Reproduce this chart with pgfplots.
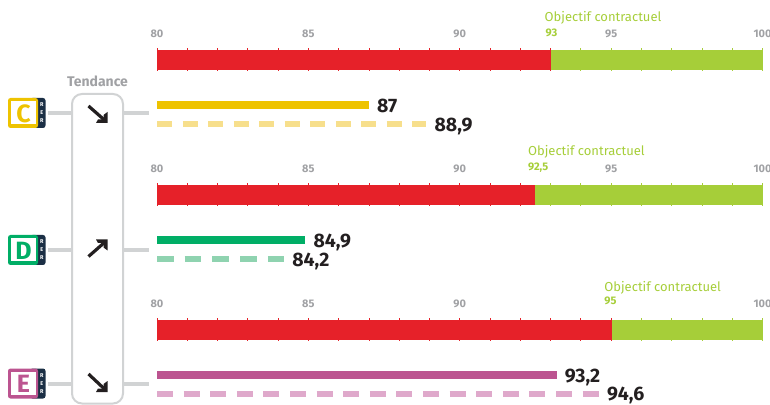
\documentclass[border=0pt]{standalone}
\usepackage{pgfplots}
\pgfplotsset{compat=1.18}
\usepackage{fontspec}
\setmainfont{Fira Sans}
\definecolor{rouge}{HTML}{E62129}
\definecolor{vert}{HTML}{A6CE39}
\definecolor{gristick}{HTML}{A0A1A4}
\definecolor{grisbox}{HTML}{D1D3D4}
\definecolor{navy}{HTML}{1B2F45}
\definecolor{encre}{HTML}{231F20}
\definecolor{lineC}{HTML}{EEC300}
\definecolor{lineCp}{HTML}{F7DF8C}
\definecolor{lineD}{HTML}{00AE66}
\definecolor{lineDp}{HTML}{8FD3B0}
\definecolor{lineE}{HTML}{BC5490}
\definecolor{lineEp}{HTML}{DFA9CB}
\pgfplotsset{
  panel/.style={
    scale only axis, width=605.5pt, height=83pt,
    anchor=south west, clip=false,
    xmin=80, xmax=100, ymin=-9, ymax=74,
    xtick={80,85,90,95,100}, xticklabel pos=upper, ytick=\empty,
    axis line style={draw=none}, major tick length=0pt,
    xticklabel style={font=\fontsize{11}{13}\selectfont\bfseries, text=gristick, yshift=9pt},
    /pgf/number format/assume math mode=true,
  },
}
\tikzset{
  scalebar/.style={line width=20pt},
  solidbar/.style={line width=8pt},
  dashbar/.style={line width=5.5pt},
  tickr/.style={only marks, mark=|, mark size=11.5pt, mark options={rouge, line width=0.8pt}},
  tickv/.style={only marks, mark=|, mark size=11.5pt, mark options={vert, line width=0.8pt}},
  val/.style={font=\fontsize{19.5}{21}\selectfont\bfseries, text=encre, anchor=west, xshift=8pt, yshift=-2.5pt, inner sep=0pt},
  obj/.style={font=\fontsize{13}{15}\selectfont\mdseries, text=vert, anchor=west, inner sep=0pt},
  objn/.style={font=\fontsize{11}{13}\selectfont\bfseries, text=vert, anchor=west, inner sep=0pt},
}
\newcommand{\badge}[3]{%
  \draw[grisbox, line width=4pt] (48pt,#1pt) -- (72pt,#1pt) (123pt,#1pt) -- (148.5pt,#1pt);
  \fill[navy, rounded corners=2.5pt] (30pt,#1pt-15pt) rectangle (45.5pt,#1pt+15pt);
  \fill[#2, rounded corners=2.5pt] (8pt,#1pt-15pt) rectangle (38pt,#1pt+15pt);
  \fill[white] (11pt,#1pt-11pt) rectangle (36pt,#1pt+11.5pt);
  \node[text=#2, font=\fontsize{25}{26}\selectfont\bfseries, inner sep=0pt] at (23.5pt,#1pt-0.5pt) {#3};
  \node[text=white, font=\fontsize{5.5}{8}\selectfont\bfseries, inner sep=0pt, align=center] at (41.7pt,#1pt) {R\\E\\R};
}
\begin{document}
\begin{tikzpicture}[x=1pt,y=1pt]
\useasboundingbox (0pt,0pt) rectangle (770pt,404pt);

% Tendance box
\draw[grisbox, line width=2pt, rounded corners=10pt, fill=white] (72pt,0.5pt) rectangle (123pt,310pt);
\node[text=gristick, font=\fontsize{14}{16}\selectfont\bfseries, inner sep=0pt] at (97.5pt,323pt) {Tendance};

% RER C
\begin{axis}[panel, at={(157pt,271pt)}]
\addplot[scalebar, rouge] coordinates {(80,64) (93,64)};
\addplot[scalebar, vert] coordinates {(93,64) (100,64)};
\addplot[tickr] coordinates {(80,64) (81,64) (82,64) (83,64) (84,64) (85,64) (86,64) (87,64) (88,64) (89,64) (90,64) (91,64) (92,64) (93,64)};
\addplot[tickv] coordinates {(94,64) (95,64) (96,64) (97,64) (98,64) (99,64) (100,64)};
\addplot[solidbar, lineC] coordinates {(80,19) (87,19)};
\addplot[dashbar, lineCp, dash pattern=on 15.3pt off 10.2pt] coordinates {(80,0) (88.9,0)};
\node[val, yshift=2pt] at (axis cs:87,19) {87};
\node[val] at (axis cs:88.9,0) {88,9};
\node[obj] at (axis cs:92.8,106) {Objectif contractuel};
\node[objn] at (axis cs:92.83,91) {93};
\end{axis}

% RER D
\begin{axis}[panel, at={(157pt,136pt)}]
\addplot[scalebar, rouge] coordinates {(80,64) (92.5,64)};
\addplot[scalebar, vert] coordinates {(92.5,64) (100,64)};
\addplot[tickr] coordinates {(80,64) (81,64) (82,64) (83,64) (84,64) (85,64) (86,64) (87,64) (88,64) (89,64) (90,64) (91,64) (92,64)};
\addplot[tickv] coordinates {(93,64) (94,64) (95,64) (96,64) (97,64) (98,64) (99,64) (100,64)};
\addplot[solidbar, lineD] coordinates {(80,19) (84.9,19)};
\addplot[dashbar, lineDp, dash pattern=on 16.5pt off 11.2pt] coordinates {(80,0) (84.2,0)};
\node[val] at (axis cs:84.9,19) {84,9};
\node[val] at (axis cs:84.2,0) {84,2};
\node[obj] at (axis cs:92.25,107) {Objectif contractuel};
\node[objn] at (axis cs:92.25,91) {92,5};
\end{axis}

% RER E
\begin{axis}[panel, at={(157pt,1pt)}, xtick={80,85,90,100}]
\addplot[scalebar, rouge] coordinates {(80,64) (95,64)};
\addplot[scalebar, vert] coordinates {(95,64) (100,64)};
\addplot[tickr] coordinates {(80,64) (81,64) (82,64) (83,64) (84,64) (85,64) (86,64) (87,64) (88,64) (89,64) (90,64) (91,64) (92,64) (93,64) (94,64) (95,64)};
\addplot[tickv] coordinates {(96,64) (97,64) (98,64) (99,64) (100,64)};
\addplot[solidbar, lineE] coordinates {(80,19) (93.2,19)};
\addplot[dashbar, lineEp, dash pattern=on 16pt off 10.6pt] coordinates {(80,0) (94.6,0)};
\node[val] at (axis cs:93.2,19) {93,2};
\node[val, yshift=1.5pt] at (axis cs:94.6,0) {94,6};
\node[obj] at (axis cs:94.77,106) {Objectif contractuel};
\node[objn] at (axis cs:94.77,93) {95};
\end{axis}

\badge{291}{lineC}{C}
\badge{154}{lineD}{D}
\badge{20.5}{lineE}{E}

% Tendance arrows
\draw[encre, line width=3.2pt] (88.5pt,298pt) -- (105pt,283.5pt);
\fill[encre] (107.5pt,281pt) -- (107.5pt,292pt) -- (103.5pt,289pt) -- (103.5pt,284.5pt) -- (98pt,284.5pt) -- (96pt,281pt) -- cycle;
\draw[encre, line width=3.2pt] (88.5pt,147.5pt) -- (105pt,162pt);
\fill[encre] (107.5pt,164.5pt) -- (107.5pt,153.5pt) -- (103.5pt,156.5pt) -- (103.5pt,161pt) -- (98pt,161pt) -- (96pt,164.5pt) -- cycle;
\draw[encre, line width=3.2pt] (88.5pt,30pt) -- (105pt,14.5pt);
\fill[encre] (107.5pt,12pt) -- (107.5pt,23pt) -- (103.5pt,20pt) -- (103.5pt,15.5pt) -- (98pt,15.5pt) -- (96pt,12pt) -- cycle;
\end{tikzpicture}
\end{document}
